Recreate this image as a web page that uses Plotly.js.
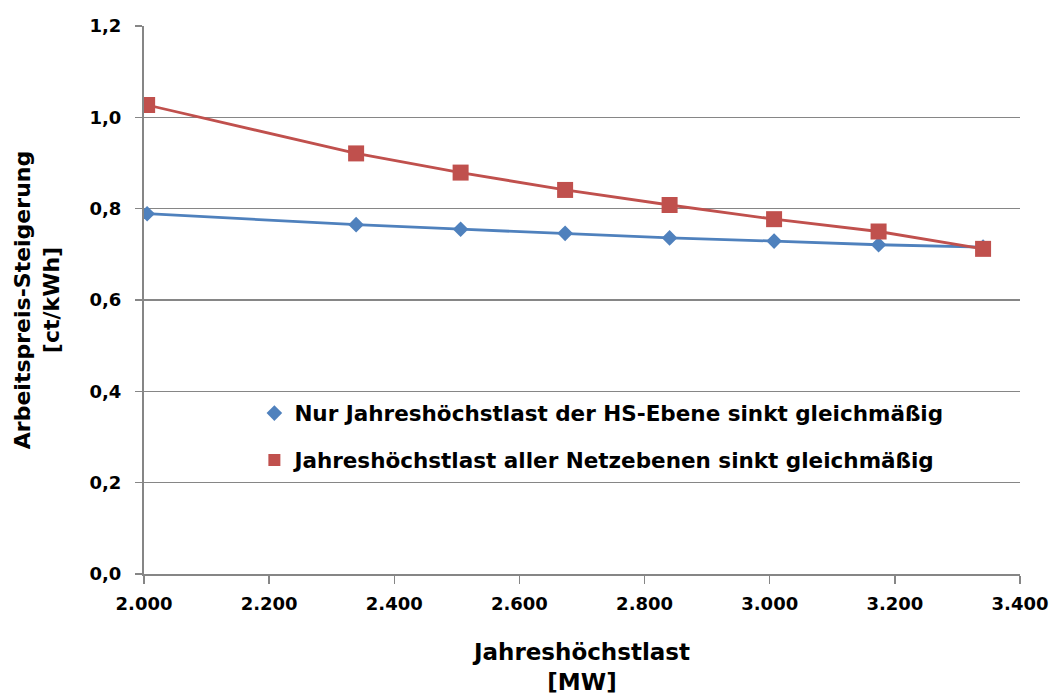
<!DOCTYPE html>
<html>
<head>
<meta charset="utf-8">
<script src="https://cdn.plot.ly/plotly-3.0.1.min.js"></script>
<style>html,body{margin:0;padding:0;background:#fff;}#chart{width:1050px;height:695px;}</style>
</head>
<body>
<div id="chart"></div>
<script>
// Jahreshöchstlast [MW]
const lastMW = [2005, 2339, 2506, 2673, 2840, 3007, 3174, 3341];
// Nur Jahreshöchstlast der HS-Ebene sinkt gleichmäßig
const hsEbene = [0.789, 0.765, 0.755, 0.746, 0.736, 0.729, 0.721, 0.716];
// Jahreshöchstlast aller Netzebenen sinkt gleichmäßig
const alleEbenen = [1.027, 0.921, 0.879, 0.841, 0.808, 0.777, 0.750, 0.712];

const seriesNames = [
  'Nur Jahreshöchstlast der HS-Ebene sinkt gleichmäßig',
  'Jahreshöchstlast aller Netzebenen sinkt gleichmäßig'
];
const xTickVals = [2000, 2200, 2400, 2600, 2800, 3000, 3200, 3400];
const xTickText = ['2.000', '2.200', '2.400', '2.600', '2.800', '3.000', '3.200', '3.400'];
const yTickVals = [0, 0.2, 0.4, 0.6, 0.8, 1.0, 1.2];
const yTickText = ['0,0', '0,2', '0,4', '0,6', '0,8', '1,0', '1,2'];

const BLUE = '#4F81BD';
const RED = '#C0504D';
const FONT = 'DejaVu Sans, Liberation Sans, Arial, sans-serif';

const traces = [
  {x: lastMW, y: hsEbene, type: 'scatter', mode: 'lines', line: {color: BLUE, width: 2.8}, showlegend: false, hoverinfo: 'skip'},
  {x: lastMW, y: alleEbenen, type: 'scatter', mode: 'lines', line: {color: RED, width: 2.8}, showlegend: false, hoverinfo: 'skip'},
  {x: lastMW, y: hsEbene, type: 'scatter', mode: 'markers', name: seriesNames[0], legendgroup: 'a',
   marker: {symbol: 'diamond', size: 12, color: BLUE}},
  {x: lastMW, y: alleEbenen, type: 'scatter', mode: 'markers', name: seriesNames[1], legendgroup: 'b',
   marker: {symbol: 'square', size: 16, color: RED}}
];

const layout = {
  width: 1050, height: 695,
  margin: {l: 144, r: 30, t: 26, b: 121},
  paper_bgcolor: '#ffffff', plot_bgcolor: '#ffffff',
  font: {family: FONT, color: '#000000'},
  showlegend: true,
  legend: {
    x: 0.126, y: 0.331, xanchor: 'left', yanchor: 'top',
    bgcolor: 'rgba(0,0,0,0)',
    font: {family: FONT, size: 21.5, color: '#000', weight: 'bold'},
    traceorder: 'grouped', tracegroupgap: 16,
    itemsizing: 'constant',
    itemwidth: 30
  },
  xaxis: {
    range: [2000, 3400],
    tickmode: 'array', tickvals: xTickVals, ticktext: xTickText,
    tickfont: {family: FONT, size: 18, color: '#000', weight: 'bold'},
    ticks: 'outside', ticklen: 8, tickcolor: '#868686', tickwidth: 1.5,
    showline: true, linecolor: '#868686', linewidth: 2,
    showgrid: false, zeroline: false,
    ticklabelstandoff: 4,
    title: {text: 'Jahreshöchstlast<br>[MW]', font: {family: FONT, size: 23, color: '#000', weight: 'bold'}, standoff: 32}
  },
  yaxis: {
    range: [0, 1.2],
    tickmode: 'array', tickvals: yTickVals, ticktext: yTickText,
    tickfont: {family: FONT, size: 18, color: '#000', weight: 'bold'},
    ticks: 'outside', ticklen: 7, tickcolor: '#868686', tickwidth: 1.5,
    showline: true, linecolor: '#868686', linewidth: 2,
    showgrid: true, gridcolor: '#868686', gridwidth: 1.5,
    zeroline: false,
    ticklabelstandoff: 10,
    title: {text: 'Arbeitspreis-Steigerung<br>[ct/kWh]', font: {family: FONT, size: 22, color: '#000', weight: 'bold'}, standoff: 24}
  }
};

Plotly.newPlot('chart', traces, layout, {displayModeBar: false, staticPlot: true});
</script>
</body>
</html>
